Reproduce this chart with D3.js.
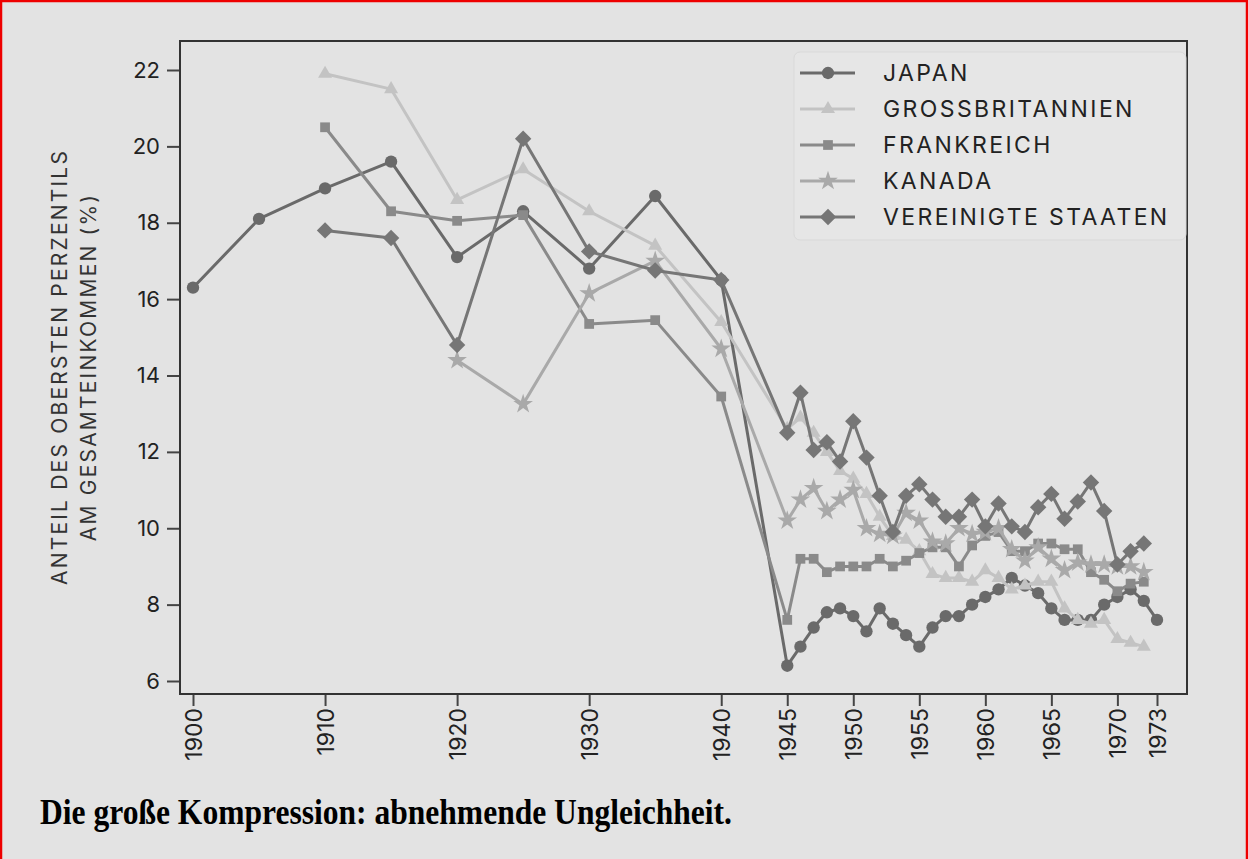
<!DOCTYPE html>
<html><head><meta charset="utf-8">
<script src="https://cdn.jsdelivr.net/npm/d3@7"></script>
<style>
html,body{margin:0;padding:0;background:#e3e3e3;}
svg{display:block;}
</style></head>
<body>
<svg id="chart" width="1248" height="859"></svg>
<script>
const yearsJapan = [1900,1905,1910,1915,1920,1925,1930,1935,1940,1945,1946,1947,1948,1949,1950,1951,1952,1953,1954,1955,1956,1957,1958,1959,1960,1961,1962,1963,1964,1965,1966,1967,1968,1969,1970,1971,1972,1973];
const valuesJapan = [16.3,18.1,18.9,19.6,17.1,18.3,16.8,18.7,16.5,6.4,6.9,7.4,7.8,7.9,7.7,7.3,7.9,7.5,7.2,6.9,7.4,7.7,7.7,8.0,8.2,8.4,8.7,8.5,8.3,7.9,7.6,7.6,7.6,8.0,8.2,8.4,8.1,7.6];

const yearsGB = [1910,1915,1920,1925,1930,1935,1940,1945,1946,1947,1948,1949,1950,1951,1952,1953,1954,1955,1956,1957,1958,1959,1960,1961,1962,1963,1964,1965,1966,1967,1968,1969,1970,1971,1972];
const valuesGB = [21.9,21.5,18.6,19.4,18.3,17.4,15.4,12.6,12.9,12.5,12.0,11.5,11.3,10.9,10.3,9.8,9.7,9.4,8.8,8.7,8.7,8.6,8.9,8.7,8.4,8.5,8.6,8.6,7.9,7.6,7.5,7.6,7.1,7.0,6.9];

const yearsFrance = [1910,1915,1920,1925,1930,1935,1940,1945,1946,1947,1948,1949,1950,1951,1952,1953,1954,1955,1956,1957,1958,1959,1960,1961,1962,1963,1964,1965,1966,1967,1968,1969,1970,1971,1972];
const valuesFrance = [20.5,18.3,18.05,18.2,15.35,15.45,13.45,7.6,9.2,9.2,8.85,9.0,9.0,9.0,9.2,9.0,9.15,9.35,9.5,9.5,9.0,9.55,9.8,9.9,9.4,9.4,9.6,9.6,9.45,9.45,8.85,8.65,8.35,8.55,8.6];

const yearsCanada = [1920,1925,1930,1935,1940,1945,1946,1947,1948,1949,1950,1951,1952,1953,1954,1955,1956,1957,1958,1959,1960,1961,1962,1963,1964,1965,1966,1967,1968,1969,1970,1971,1972];
const valuesCanada = [14.4,13.25,16.15,17.0,14.7,10.2,10.75,11.05,10.45,10.75,11.0,10.0,9.85,9.8,10.4,10.2,9.65,9.6,10.0,9.85,9.9,10.0,9.45,9.15,9.5,9.2,8.9,9.1,9.05,9.05,9.0,9.0,8.85];

const yearsUS = [1910,1915,1920,1925,1930,1935,1940,1945,1946,1947,1948,1949,1950,1951,1952,1953,1954,1955,1956,1957,1958,1959,1960,1961,1962,1963,1964,1965,1966,1967,1968,1969,1970,1971,1972];
const valuesUS = [17.8,17.6,14.8,20.2,17.25,16.75,16.5,12.5,13.55,12.05,12.25,11.75,12.8,11.85,10.85,9.9,10.85,11.15,10.75,10.3,10.3,10.75,10.05,10.65,10.05,9.9,10.55,10.9,10.25,10.7,11.2,10.45,9.05,9.4,9.6];

const seriesNames = ["JAPAN","GROSSBRITANNIEN","FRANKREICH","KANADA","VEREINIGTE STAATEN"];
const seriesColors = ["#6a6a6a","#c3c3c3","#8a8a8a","#a9a9a9","#767676"];
const seriesShapes = ["circle","triangle","square","star","diamond"];
const xTickYears = [1900,1910,1920,1930,1940,1945,1950,1955,1960,1965,1970,1973];
const yTicks = [6,8,10,12,14,16,18,20,22];
const yLabelLines = ["ANTEIL DES OBERSTEN PERZENTILS","AM GESAMTEINKOMMEN (%)"];
const captionText = "Die große Kompression: abnehmende Ungleichheit.";

const seriesYears = [yearsJapan,yearsGB,yearsFrance,yearsCanada,yearsUS];
const seriesValues = [valuesJapan,valuesGB,valuesFrance,valuesCanada,valuesUS];

const svg = d3.select("#chart");
const W = 1248, H = 859;
svg.append("rect").attr("width",W).attr("height",H).attr("fill","#e3e3e3");

const box = {left:180, right:1187, top:41, bottom:694};
const x = d3.scaleLinear().domain([1900,1973]).range([193,1157]);
const y = d3.scaleLinear().domain([6,22]).range([681,70]);

const fontSans = "Inter, Roboto, 'DejaVu Sans', sans-serif";

// axes
const yAxis = d3.axisLeft(y).tickValues(yTicks).tickSize(13).tickPadding(7).tickFormat(d3.format("d"));
const gy = svg.append("g").attr("transform",`translate(${box.left},0)`).call(yAxis);
gy.select(".domain").remove();
gy.selectAll(".tick line").attr("stroke","#444").attr("stroke-width",2);
gy.selectAll(".tick text").attr("font-family",fontSans).attr("font-size",22).attr("fill","#222");

const xAxis = d3.axisBottom(x).tickValues(xTickYears).tickSize(12).tickFormat(d3.format("d"));
const gx = svg.append("g").attr("transform",`translate(0,${box.bottom})`).call(xAxis);
gx.select(".domain").remove();
gx.selectAll(".tick line").attr("stroke","#444").attr("stroke-width",2);
gx.selectAll(".tick text")
  .attr("font-family",fontSans).attr("font-size",23).attr("fill","#222")
  .attr("transform","rotate(-90)")
  .attr("text-anchor","end")
  .attr("x",-14).attr("y",0).attr("dy","0.36em");

// frame
svg.append("rect").attr("x",box.left).attr("y",box.top)
  .attr("width",box.right-box.left).attr("height",box.bottom-box.top)
  .attr("fill","none").attr("stroke","#333").attr("stroke-width",2);

// y label
const yl = svg.append("text").attr("transform","translate(72,367) rotate(-90)")
  .attr("text-anchor","middle").attr("font-family",fontSans).attr("font-size",21)
  .attr("fill","#333").attr("letter-spacing","2.2");
yl.selectAll("tspan").data(yLabelLines).join("tspan")
  .attr("x",0).attr("dy",(d,i)=> i===0 ? "-0.25em" : "1.4em").text(d=>d);

// symbol helpers
function symbolPath(shape){
  const t = {circle:[d3.symbolCircle,120], triangle:[d3.symbolTriangle,85], square:[d3.symbolSquare,95], star:[d3.symbolStar,120], diamond:[d3.symbolSquare,135]}[shape];
  return d3.symbol().type(t[0]).size(t[1])();
}
function symbolRot(shape){ return shape==="diamond" ? " rotate(45)" : ""; }

const line = d3.line().x(d=>x(d[0])).y(d=>y(d[1]));

const plot = svg.append("g");
seriesNames.forEach((name,i)=>{
  const pts = seriesYears[i].map((yr,j)=>[yr,seriesValues[i][j]]);
  plot.append("path").datum(pts).attr("d",line).attr("fill","none")
    .attr("stroke",seriesColors[i]).attr("stroke-width",3).attr("stroke-linejoin","round");
  plot.selectAll(null).data(pts).join("path")
    .attr("d",symbolPath(seriesShapes[i]))
    .attr("transform",d=>`translate(${x(d[0])},${y(d[1])})`+symbolRot(seriesShapes[i]))
    .attr("fill",seriesColors[i]);
});

// legend
const lg = svg.append("g");
lg.append("rect").attr("x",794).attr("y",52).attr("width",392).attr("height",188).attr("rx",6)
  .attr("fill","#e6e6e6").attr("stroke","#d9d9d9").attr("stroke-width",1);
seriesNames.forEach((name,i)=>{
  const ly = 73 + i*36;
  lg.append("line").attr("x1",800).attr("x2",855).attr("y1",ly).attr("y2",ly)
    .attr("stroke",seriesColors[i]).attr("stroke-width",3);
  lg.append("path").attr("d",symbolPath(seriesShapes[i])).attr("transform",`translate(828,${ly})`+symbolRot(seriesShapes[i]))
    .attr("fill",seriesColors[i]);
  lg.append("text").attr("x",883).attr("y",ly).attr("dy","0.36em")
    .attr("font-family",fontSans).attr("font-size",23).attr("fill","#222").attr("letter-spacing","2.4")
    .text(name);
});

// caption
svg.append("text").attr("x",40).attr("y",824).attr("font-family","'Liberation Serif','Times New Roman',serif")
  .attr("font-weight","bold").attr("font-size",35).attr("fill","#000")
  .attr("textLength",692).attr("lengthAdjust","spacingAndGlyphs").text(captionText);

// red border
svg.append("path").attr("d",`M1,${H} V1 H${W-1} V${H}`).attr("fill","none").attr("stroke","#e00").attr("stroke-width",2.5);
</script>
</body></html>
